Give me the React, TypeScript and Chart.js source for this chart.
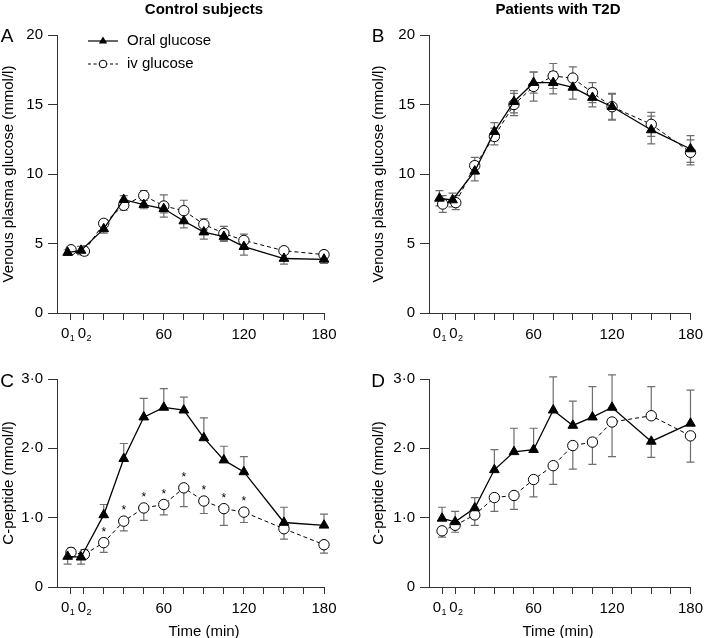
import React, { useEffect, useRef } from "react";
import { Chart, registerables } from "chart.js";

Chart.register(...registerables);

const FONT = "'Liberation Sans', Arial, Helvetica, sans-serif";
const AXIS = "#333333";
const ERR = "#6e6e6e";

// Sampling times (min); first two are the two baseline samples 0₁ and 0₂
const timeOral = [-12, -2, 15, 30, 45, 60, 75, 90, 105, 120, 150, 180];
const timeIv = [-9.5, 0.5, 15, 30, 45, 60, 75, 90, 105, 120, 150, 180];
const timeD = [-10, 0, 15, 30, 45, 60, 75, 90, 105, 120, 150, 180];

const xTickValues = [-10, 0, 15, 30, 45, 60, 75, 90, 105, 120, 135, 150, 165, 180];
const xTickLabels = ["0\u2081", "0\u2082", "", "", "", "60", "", "", "", "120", "", "", "", "180"];

// Panel A: control subjects, glucose (mmol/l)
const aOral = [4.35, 4.5, 6.05, 8.15, 7.8, 7.5, 6.62, 5.82, 5.5, 4.77, 3.92, 3.86];
const aOralErr = [0.2, 0.3, 0.3, 0.3, 0.3, 0.3, 0.5, 0.5, 0.35, 0.6, 0.4, 0.3];
const aIv = [4.55, 4.45, 6.45, 7.75, 8.45, 7.7, 7.36, 6.38, 5.73, 5.22, 4.48, 4.2];
const aIvErr = [0.2, 0.3, 0.2, 0.35, 0.35, 0.8, 0.75, 0.4, 0.5, 0.45, 0.2, 0.25];

// Panel B: patients with T2D, glucose (mmol/l)
const bOral = [8.25, 8.13, 10.2, 13.05, 15.2, 16.57, 16.57, 16.23, 15.5, 14.84, 13.17, 11.8];
const bOralErr = [0.55, 0.5, 0.7, 0.65, 0.8, 0.75, 0.8, 0.85, 0.67, 0.9, 1.0, 0.96];
const bIv = [7.84, 7.94, 10.6, 12.7, 15.0, 16.3, 17.05, 16.9, 15.85, 14.84, 13.57, 11.56];
const bIvErr = [0.6, 0.5, 0.6, 0.6, 0.8, 1.05, 0.9, 0.8, 0.72, 0.96, 0.87, 0.9];

// Panel C: control subjects, C-peptide
const cOral = [0.44, 0.43, 1.04, 1.85, 2.45, 2.59, 2.55, 2.15, 1.83, 1.66, 0.93, 0.89];
const cOralUp = [0, 0, 0.15, 0.22, 0.27, 0.27, 0.19, 0.29, 0.2, 0.22, 0.22, 0.16];
const cOralDn = [0.11, 0.1, 0, 0, 0, 0, 0, 0, 0, 0, 0, 0];
const cIv = [0.5, 0.47, 0.64, 0.95, 1.14, 1.19, 1.43, 1.24, 1.13, 1.08, 0.84, 0.61];
const cIvUp = [0.06, 0.07, 0, 0, 0, 0, 0, 0, 0, 0, 0, 0];
const cIvDn = [0, 0, 0.14, 0.14, 0.18, 0.15, 0.27, 0.18, 0.24, 0.15, 0.15, 0.12];
const cIvStars = ["", "", "*", "*", "*", "*", "*", "*", "*", "*", "", ""];

// Panel D: patients with T2D, C-peptide
const dOral = [0.99, 0.94, 1.14, 1.69, 1.95, 1.98, 2.55, 2.33, 2.45, 2.59, 2.1, 2.36];
const dOralUp = [0.16, 0.15, 0.15, 0.29, 0.34, 0.31, 0.48, 0.35, 0.44, 0.47, 0, 0.48];
const dOralDn = [0, 0, 0, 0, 0, 0, 0, 0, 0, 0, 0.23, 0];
const dIv = [0.81, 0.89, 1.04, 1.29, 1.32, 1.55, 1.75, 2.04, 2.09, 2.38, 2.47, 2.18];
const dIvUp = [0, 0, 0, 0, 0, 0, 0, 0, 0, 0, 0.42, 0];
const dIvDn = [0.09, 0.1, 0.15, 0.2, 0.2, 0.25, 0.27, 0.34, 0.32, 0.5, 0, 0.38];

const SUB: Record<string, string> = { "\u2081": "1", "\u2082": "2" };

const pts = (xs: number[], ys: number[]) => xs.map((x, i) => ({ x, y: ys[i] }));

const errorBarPlugin = {
  id: "errorBars",
  beforeDatasetsDraw(chart: any) {
    const ctx = chart.ctx;
    const ys = chart.scales.y;
    chart.data.datasets.forEach((ds: any, di: number) => {
      const meta = chart.getDatasetMeta(di);
      ctx.save();
      ctx.strokeStyle = ERR;
      ctx.lineWidth = 1.2;
      meta.data.forEach((p: any, i: number) => {
        const v = ds.data[i].y;
        const bar = (e: number, s: number) => {
          if (!e) return;
          const yp = ys.getPixelForValue(v + s * e);
          ctx.beginPath();
          ctx.moveTo(p.x, p.y);
          ctx.lineTo(p.x, yp);
          ctx.moveTo(p.x - 4, yp);
          ctx.lineTo(p.x + 4, yp);
          ctx.stroke();
        };
        bar(ds.errUp ? ds.errUp[i] : 0, 1);
        bar(ds.errDn ? ds.errDn[i] : 0, -1);
      });
      ctx.restore();
    });
  },
  afterDatasetsDraw(chart: any) {
    const ctx = chart.ctx;
    chart.data.datasets.forEach((ds: any, di: number) => {
      if (!ds.stars) return;
      const meta = chart.getDatasetMeta(di);
      ctx.save();
      ctx.fillStyle = "#000";
      ctx.font = `12px ${FONT}`;
      ctx.textAlign = "center";
      ctx.textBaseline = "middle";
      meta.data.forEach((p: any, i: number) => {
        if (ds.stars[i]) ctx.fillText(ds.stars[i], p.x, p.y - 10);
      });
      ctx.restore();
    });
  },
  // tick labels with a subscript digit (0₁, 0₂) drawn with a real, lowered subscript
  afterDraw(chart: any) {
    const ctx = chart.ctx;
    const xs = chart.scales.x;
    const y = xs.top + 7 + 6;
    ctx.save();
    ctx.fillStyle = "#000";
    ctx.textBaseline = "top";
    ctx.textAlign = "left";
    let k = 0;
    xTickValues.forEach((v, i) => {
      const lab = xTickLabels[i];
      const subCh = lab.slice(-1);
      if (!SUB[subCh]) return;
      const base = lab.slice(0, -1);
      ctx.font = `15px ${FONT}`;
      const wb = ctx.measureText(base).width;
      ctx.font = `9px ${FONT}`;
      const ws = ctx.measureText(SUB[subCh]).width;
      const shift = k === 0 ? -2.5 : 1;
      k++;
      const x0 = xs.getPixelForValue(v) + shift - (wb + ws + 0.5) / 2;
      ctx.font = `15px ${FONT}`;
      ctx.fillText(base, x0, y);
      ctx.font = `9px ${FONT}`;
      ctx.fillText(SUB[subCh], x0 + wb + 0.5, y + 8);
    });
    ctx.restore();
  },
};

const legendPlugin = {
  id: "panelLegend",
  afterDraw(chart: any) {
    const ctx = chart.ctx;
    const ca = chart.chartArea;
    const x0 = ca.left + 31;
    const x1 = ca.left + 61;
    const xm = (x0 + x1) / 2;
    const y1 = ca.top + 6;
    const y2 = ca.top + 29;
    ctx.save();
    ctx.strokeStyle = "#000";
    ctx.lineWidth = 1.2;
    ctx.beginPath();
    ctx.moveTo(x0, y1);
    ctx.lineTo(x1, y1);
    ctx.stroke();
    ctx.fillStyle = "#000";
    ctx.beginPath();
    ctx.moveTo(xm, y1 - 4.5);
    ctx.lineTo(xm + 4.2, y1 + 2.5);
    ctx.lineTo(xm - 4.2, y1 + 2.5);
    ctx.closePath();
    ctx.fill();
    ctx.lineWidth = 1;
    ctx.setLineDash([3, 2.5]);
    ctx.beginPath();
    ctx.moveTo(x0, y2);
    ctx.lineTo(x1, y2);
    ctx.stroke();
    ctx.setLineDash([]);
    ctx.fillStyle = "#fff";
    ctx.beginPath();
    ctx.arc(xm, y2, 3.8, 0, Math.PI * 2);
    ctx.fill();
    ctx.stroke();
    ctx.fillStyle = "#000";
    ctx.font = `15px ${FONT}`;
    ctx.textAlign = "left";
    ctx.textBaseline = "middle";
    ctx.fillText("Oral glucose", ca.left + 70, y1);
    ctx.fillText("iv glucose", ca.left + 70, y2);
    ctx.restore();
  },
};

type PanelProps = {
  left: number;
  top: number;
  width: number;
  height: number;
  pad: { top: number; right: number; left: number };
  yW: number;
  xH: number;
  yMax: number;
  yStep: number;
  yTitle: string;
  dotFmt: boolean;
  oralX: number[];
  ivX: number[];
  oral: number[];
  oralUp: number[];
  oralDn: number[];
  iv: number[];
  ivUp: number[];
  ivDn: number[];
  stars?: string[];
  legend?: boolean;
};

function Panel(p: PanelProps) {
  const ref = useRef<HTMLCanvasElement | null>(null);
  useEffect(() => {
    if (!ref.current) return;
    const font = { family: FONT, size: 15 };
    const plugins: any[] = [errorBarPlugin];
    if (p.legend) plugins.push(legendPlugin);
    const chart = new Chart(ref.current, {
      type: "line",
      data: {
        datasets: [
          {
            label: "Oral glucose",
            data: pts(p.oralX, p.oral),
            borderColor: "#000",
            borderWidth: 1.3,
            pointStyle: "triangle",
            pointRadius: 5.6,
            pointBackgroundColor: "#000",
            pointBorderColor: "#000",
            pointBorderWidth: 1,
            fill: false,
            tension: 0,
            clip: false,
            errUp: p.oralUp,
            errDn: p.oralDn,
          } as any,
          {
            label: "iv glucose",
            data: pts(p.ivX, p.iv),
            borderColor: "#000",
            borderWidth: 1,
            borderDash: [4, 3],
            pointStyle: "circle",
            pointRadius: 5.2,
            pointBackgroundColor: "#fff",
            pointBorderColor: "#000",
            pointBorderWidth: 1,
            fill: false,
            tension: 0,
            clip: false,
            errUp: p.ivUp,
            errDn: p.ivDn,
            stars: p.stars,
          } as any,
        ],
      },
      options: {
        animation: false,
        responsive: false,
        events: [],
        layout: { padding: { top: p.pad.top, right: p.pad.right, left: p.pad.left, bottom: 0 } },
        plugins: { legend: { display: false }, tooltip: { enabled: false } },
        scales: {
          x: {
            type: "linear",
            min: -20,
            max: 180,
            afterBuildTicks: (s: any) => {
              s.ticks = xTickValues.map((v) => ({ value: v }));
            },
            afterFit: (s: any) => {
              s.height = p.xH;
            },
            ticks: {
              stepSize: 20,
              autoSkip: false,
              maxRotation: 0,
              minRotation: 0,
              padding: 6,
              color: "#000",
              font,
              callback: (v: any) => {
                const i = xTickValues.indexOf(Number(v));
                if (i < 0) return "";
                const lab = xTickLabels[i];
                // labels with a subscript are drawn by the plugin
                return SUB[lab.slice(-1)] ? "" : lab;
              },
            },
            grid: { drawOnChartArea: false, drawTicks: true, tickLength: 7, color: AXIS, lineWidth: 1 },
            border: { display: true, color: AXIS, width: 1 },
          },
          y: {
            type: "linear",
            min: 0,
            max: p.yMax,
            afterFit: (s: any) => {
              s.width = p.yW;
            },
            ticks: {
              stepSize: p.yStep,
              padding: 5,
              color: "#000",
              font,
              callback: (v: any) => {
                const n = Number(v);
                if (!p.dotFmt || n === 0) return String(n);
                return n.toFixed(1).replace(".", "\u00B7");
              },
            },
            grid: { drawOnChartArea: false, drawTicks: true, tickLength: 9, color: AXIS, lineWidth: 1 },
            border: { display: true, color: AXIS, width: 1 },
            title: {
              display: true,
              text: p.yTitle,
              color: "#000",
              font,
              padding: { top: 0, bottom: 0 },
            },
          },
        },
      } as any,
      plugins,
    });
    return () => chart.destroy();
  }, []);
  return (
    <canvas
      ref={ref}
      width={p.width}
      height={p.height}
      style={{ position: "absolute", left: p.left, top: p.top, width: p.width, height: p.height }}
    />
  );
}

const label = (text: string, x: number, y: number, size: number, bold = false) => (
  <div
    style={{
      position: "absolute",
      left: x,
      top: y,
      transform: "translate(-50%, -50%)",
      fontFamily: FONT,
      fontSize: size,
      fontWeight: bold ? "bold" : "normal",
      lineHeight: 1,
      whiteSpace: "nowrap",
      color: "#000",
    }}
  >
    {text}
  </div>
);

export default function App() {
  return (
    <div
      style={{
        position: "absolute",
        left: 0,
        top: 0,
        width: 709,
        height: 638,
        background: "#fff",
        overflow: "hidden",
      }}
    >
      <Panel
        left={0}
        top={0}
        width={354}
        height={350}
        pad={{ top: 35, right: 30, left: 0 }}
        yW={57}
        xH={37}
        yMax={20}
        yStep={5}
        yTitle="Venous plasma glucose (mmol/l)"
        dotFmt={false}
        oralX={timeOral}
        ivX={timeIv}
        oral={aOral}
        oralUp={aOralErr}
        oralDn={aOralErr}
        iv={aIv}
        ivUp={aIvErr}
        ivDn={aIvErr}
        legend
      />
      <Panel
        left={354}
        top={0}
        width={355}
        height={350}
        pad={{ top: 35, right: 12, left: 16 }}
        yW={59}
        xH={37}
        yMax={20}
        yStep={5}
        yTitle="Venous plasma glucose (mmol/l)"
        dotFmt={false}
        oralX={timeOral}
        ivX={timeIv}
        oral={bOral}
        oralUp={bOralErr}
        oralDn={bOralErr}
        iv={bIv}
        ivUp={bIvErr}
        ivDn={bIvErr}
      />
      <Panel
        left={0}
        top={350}
        width={354}
        height={288}
        pad={{ top: 29, right: 30, left: 0 }}
        yW={57}
        xH={51}
        yMax={3}
        yStep={1}
        yTitle="C-peptide (mmol/l)"
        dotFmt
        oralX={timeOral}
        ivX={timeIv}
        oral={cOral}
        oralUp={cOralUp}
        oralDn={cOralDn}
        iv={cIv}
        ivUp={cIvUp}
        ivDn={cIvDn}
        stars={cIvStars}
      />
      <Panel
        left={354}
        top={350}
        width={355}
        height={288}
        pad={{ top: 29, right: 12, left: 16 }}
        yW={59}
        xH={51}
        yMax={3}
        yStep={1}
        yTitle="C-peptide (mmol/l)"
        dotFmt
        oralX={timeD}
        ivX={timeD}
        oral={dOral}
        oralUp={dOralUp}
        oralDn={dOralDn}
        iv={dIv}
        ivUp={dIvUp}
        ivDn={dIvDn}
      />
      {label("Control subjects", 204, 8, 15, true)}
      {label("Patients with T2D", 558, 8, 15, true)}
      {label("A", 7, 35, 19)}
      {label("B", 378, 35, 19)}
      {label("C", 7, 380, 19)}
      {label("D", 378, 380, 19)}
      {label("Time (min)", 204, 630, 15)}
      {label("Time (min)", 558, 630, 15)}
    </div>
  );
}
